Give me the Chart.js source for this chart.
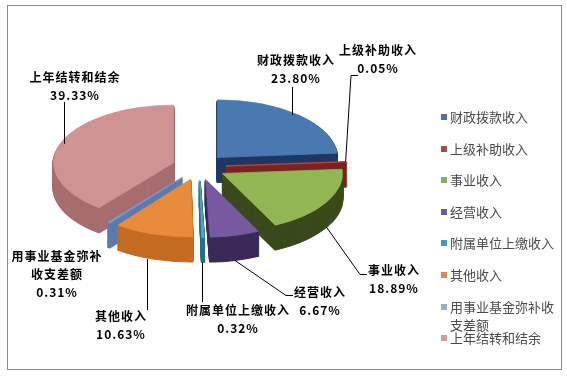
<!DOCTYPE html>
<html>
<head>
<meta charset="utf-8">
<script src="https://cdn.jsdelivr.net/npm/chart.js@4.4.1/dist/chart.umd.min.js"></script>
<style>
  html, body { margin: 0; padding: 0; background: #ffffff; }
  #wrap { position: relative; width: 567px; height: 377px; overflow: hidden; }
  #frame { position: absolute; left: 7px; top: 5px; width: 555px; height: 365px; border: 1px solid #8a8a8a; box-sizing: border-box; }
  #c { position: absolute; left: 0; top: 0; }
  #legend { position: absolute; left: 0; top: 0; font: 13px "Noto Sans CJK SC", sans-serif; color: #4a4a4a; }
  .li { position: absolute; left: 441px; display: flex; align-items: flex-start; }
  .lb { width: 6px; height: 6px; margin-top: 6px; margin-right: 3px; flex: none; }
  .lt { width: 108px; line-height: 18px; white-space: normal; word-break: break-all; }
</style>
</head>
<body>
<div id="wrap">
  <div id="frame"></div>
  <canvas id="c" width="567" height="377"></canvas>
  <div id="legend"></div>
</div>
<script>
// ---- data ----
const categories = ['财政拨款收入', '上级补助收入', '事业收入', '经营收入', '附属单位上缴收入', '其他收入', '用事业基金弥补收支差额', '上年结转和结余'];
const values = [23.80, 0.05, 18.89, 6.67, 0.32, 10.63, 0.31, 39.33];
const labelNames = [['财政拨款收入'], ['上级补助收入'], ['事业收入'], ['经营收入'], ['附属单位上缴收入'], ['其他收入'], ['用事业基金弥补', '收支差额'], ['上年结转和结余']];

// ---- styles / layout ----
const topColors  = ['#4a78b0', '#b0423f', '#94b553', '#7659a0', '#4bacc6', '#e88c3c', '#7c9acc', '#d09394'];
const sideColors = ['#1f3864', '#7a2422', '#3a4a1c', '#3b2b57', '#2a6e80', '#c46c22', '#5b7bb0', '#a86d6e'];
const legendColors = ['#4f74a3', '#b04a4a', '#8eaa5c', '#6e5a94', '#449fb6', '#e0894a', '#9aaed0', '#d9999a'];
const SQUASH = 0.48, DEPTH = 25, EXPLODE = 27, RADIUS = 120;
const labelPos = [[296, 60], [378, 50], [394, 270], [320, 292], [238, 310], [121, 316], [57, 256], [75, 77]];
const leaders = [
  {t: 'v', x: 292, y: 87}, {t: 'e', x: 358, y: 75}, {t: 'e', x: 367, y: 274}, {t: 'e', x: 293, y: 295},
  {t: 'v', x: 202, y: 302}, {t: 'v', x: 147, y: 310}, null, {t: 'v', x: 64, y: 102}
];
const legendTop = 117, legendStep = 31.6;

// legend (HTML)
const lg = document.getElementById('legend');
categories.forEach((name, i) => {
  const d = document.createElement('div');
  d.className = 'li';
  d.style.top = (legendTop + i * legendStep - 9) + 'px';
  const b = document.createElement('span'); b.className = 'lb'; b.style.background = legendColors[i];
  const t = document.createElement('span'); t.className = 'lt'; t.textContent = name;
  d.appendChild(b); d.appendChild(t); lg.appendChild(d);
});

function arcGeom(arc) {
  const mid = (arc.startAngle + arc.endAngle) / 2;
  const ax = arc.x + Math.cos(mid) * EXPLODE;
  const ay = arc.y + Math.sin(mid) * EXPLODE * SQUASH;
  const r = arc.outerRadius;
  let rx = ax + Math.cos(mid) * r;
  let ry = ay + Math.sin(mid) * r * SQUASH;
  if (Math.sin(mid) > 0.2) ry += DEPTH;
  return {mid, rx, ry};
}

const pie3d = {
  id: 'pie3d',
  beforeDatasetsDraw(chart) {
    const meta = chart.getDatasetMeta(0);
    const ctx = chart.ctx;
    const drawArcs = (dy, cols, bw) => {
      meta.data.forEach((arc, i) => {
        const mid = (arc.startAngle + arc.endAngle) / 2;
        ctx.save();
        ctx.translate(arc.x, arc.y + dy);
        ctx.scale(1, SQUASH);
        ctx.translate(Math.cos(mid) * EXPLODE, Math.sin(mid) * EXPLODE);
        ctx.translate(-arc.x, -arc.y);
        const orig = arc.options;
        const w = (arc.endAngle - arc.startAngle) < 0.01 ? bw + 2 : bw;
        arc.options = Object.assign({}, orig, {backgroundColor: cols[i], borderColor: cols[i], borderWidth: w, offset: 0});
        arc.draw(ctx);
        arc.options = orig;
        ctx.restore();
      });
    };
    for (let d = DEPTH; d >= 1; d--) drawArcs(d, sideColors, 2);
    drawArcs(0, topColors, 1);
    return false;
  },
  afterDraw(chart) {
    const meta = chart.getDatasetMeta(0);
    const ctx = chart.ctx;
    ctx.save();
    ctx.strokeStyle = '#000';
    ctx.lineWidth = 1;
    meta.data.forEach((arc, i) => {
      const L = leaders[i];
      if (!L) return;
      const g = arcGeom(arc);
      ctx.beginPath();
      if (L.t === 'v') {
        ctx.moveTo(L.x + 0.5, L.y);
        ctx.lineTo(L.x + 0.5, g.ry);
      } else {
        ctx.moveTo(L.x, L.y + 0.5);
        ctx.lineTo(L.x - 7, L.y + 0.5);
        ctx.lineTo(g.rx, g.ry);
      }
      ctx.stroke();
    });
    ctx.fillStyle = '#000';
    ctx.textAlign = 'center';
    ctx.textBaseline = 'middle';
    ctx.font = 'bold 12px "Noto Sans CJK SC"';
    try { ctx.letterSpacing = '1px'; } catch (e) {}
    const data = chart.data.datasets[0].data;
    labelNames.forEach((lines, i) => {
      const [x, y] = labelPos[i];
      lines.forEach((s, k) => ctx.fillText(s, x, y + k * 18));
      ctx.fillText(data[i].toFixed(2) + '%', x, y + lines.length * 18);
    });
    ctx.restore();
  }
};

function build() {
  new Chart(document.getElementById('c'), {
    type: 'pie',
    data: {
      labels: categories,
      datasets: [{data: values, backgroundColor: topColors, borderWidth: 0}]
    },
    options: {
      responsive: false,
      animation: false,
      events: [],
      radius: RADIUS,
      layout: {padding: {left: 0, right: 169, top: 0, bottom: 43}},
      plugins: {legend: {display: false}, tooltip: {enabled: false}}
    },
    plugins: [pie3d]
  });
}
if (document.fonts && document.fonts.load) {
  Promise.all([document.fonts.load('bold 12px "Noto Sans CJK SC"'), document.fonts.load('13px "Noto Sans CJK SC"')]).then(build, build);
} else build();
</script>
</body>
</html>
